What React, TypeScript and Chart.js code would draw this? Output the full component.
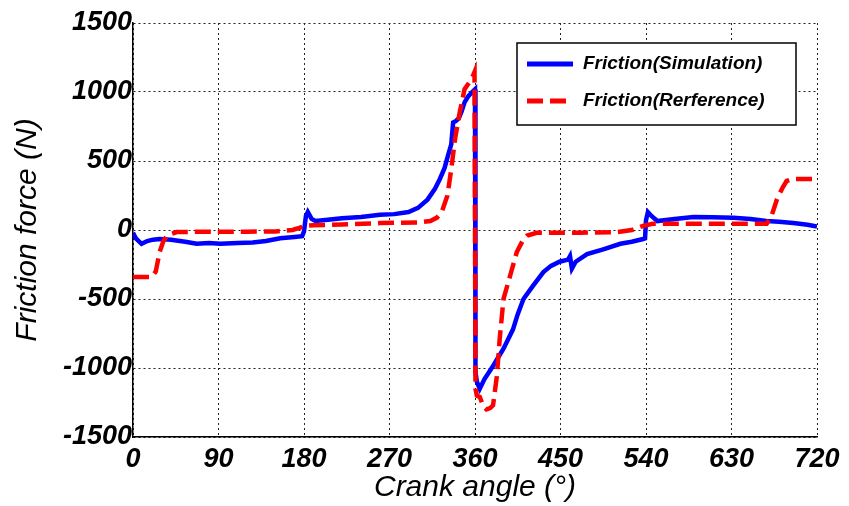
import React, { useEffect, useRef } from "react";
import { Chart, registerables } from "chart.js";

Chart.register(...registerables);

const simAngles = [0, 3, 9, 15, 21, 28, 40, 55, 67, 80, 92, 110, 126, 140, 155, 170, 178, 180, 182, 184, 188, 192, 205, 220, 240, 260, 275, 290, 300, 310, 318, 323, 328, 332, 335, 337, 340, 343, 346, 349, 353, 357, 360, 360.5, 362, 365, 370, 379, 390, 400, 405, 411, 421, 432, 440, 449, 458, 460, 462, 466, 478, 495, 513, 525, 537, 539, 540, 542, 546, 552, 570, 590, 610, 632, 650, 667, 680, 695, 710, 720];
const simForce = [-20, -60, -100, -80, -70, -65, -70, -85, -100, -95, -100, -95, -90, -80, -60, -50, -45, -10, 100, 130, 80, 65, 75, 85, 95, 110, 115, 130, 160, 220, 300, 370, 450, 550, 620, 780, 790, 810, 860, 925, 970, 1000, 1020, -1030, -1100, -1150, -1080, -985, -860, -720, -610, -500, -405, -305, -260, -230, -215, -190, -280, -230, -175, -140, -100, -85, -65, -60, 70, 130, 100, 65, 80, 94, 92, 88, 80, 65, 60, 50, 38, 25];

const refAngles = [0, 20, 24, 28, 32, 36, 46, 80, 120, 150, 168, 175, 181, 190, 220, 260, 300, 313, 320, 325, 331, 335, 339, 344, 349, 355, 358, 359.5, 360.5, 362, 365, 369, 372, 376, 379, 383, 386, 390, 397, 404, 410, 415, 425, 470, 510, 525, 537, 547, 600, 667, 672, 678, 684, 688, 695, 720];
const refForce = [-340, -340, -300, -160, -80, -40, -15, -12, -12, -10, 0, 15, 30, 35, 40, 50, 55, 65, 90, 130, 250, 440, 660, 855, 1020, 1080, 1120, 1145, -1150, -1200, -1210, -1280, -1300, -1290, -1270, -1060, -790, -500, -330, -160, -80, -40, -20, -20, -15, 0, 30, 45, 45, 45, 100, 225, 310, 355, 370, 370];

const xTicks = [0, 90, 180, 270, 360, 450, 540, 630, 720];
const yTicks = [-1500, -1000, -500, 0, 500, 1000, 1500];

const seriesLabels = ["Friction(Simulation)", "Friction(Rerference)"];
const xTitle = "Crank angle (°)";
const yTitle = "Friction force (N)";

const FONT = "'Liberation Sans', Arial, Helvetica, sans-serif";

const legendPlugin = {
  id: "boxLegend",
  afterDraw(chart: any) {
    const ctx = chart.ctx;
    const x0 = 517, y0 = 43, w = 279, h = 82;
    ctx.save();
    ctx.fillStyle = "#ffffff";
    ctx.fillRect(x0, y0, w, h);
    ctx.strokeStyle = "#000000";
    ctx.lineWidth = 1.5;
    ctx.strokeRect(x0, y0, w, h);
    const rows = [
      { y: 64, color: "#0000ff", dash: [] as number[] },
      { y: 101, color: "#ff0000", dash: [16, 7] },
    ];
    rows.forEach((r, i) => {
      ctx.beginPath();
      ctx.setLineDash(r.dash);
      ctx.strokeStyle = r.color;
      ctx.lineWidth = 5;
      ctx.moveTo(527, r.y);
      ctx.lineTo(573, r.y);
      ctx.stroke();
      ctx.setLineDash([]);
      ctx.fillStyle = "#000000";
      ctx.font = `italic bold 19px ${FONT}`;
      ctx.textBaseline = "middle";
      ctx.textAlign = "left";
      ctx.fillText(seriesLabels[i], 583, r.y);
    });
    ctx.restore();
  },
};

export default function App() {
  const canvasRef = useRef<HTMLCanvasElement | null>(null);

  useEffect(() => {
    const canvas = canvasRef.current;
    if (!canvas) return;
    const chart = new Chart(canvas, {
      type: "line",
      data: {
        datasets: [
          {
            label: seriesLabels[0],
            data: simAngles.map((a, i) => ({ x: a, y: simForce[i] })),
            borderColor: "#0000ff",
            backgroundColor: "#0000ff",
            borderWidth: 4.5,
            pointRadius: 0,
            tension: 0,
            order: 1,
          },
          {
            label: seriesLabels[1],
            data: refAngles.map((a, i) => ({ x: a, y: refForce[i] })),
            borderColor: "#ff0000",
            backgroundColor: "#ff0000",
            borderWidth: 4.5,
            borderDash: [16, 7],
            pointRadius: 0,
            tension: 0,
            order: 0,
          },
        ],
      },
      options: {
        animation: false,
        responsive: false,
        devicePixelRatio: 1,
        layout: { padding: { top: 23, right: 32, left: 0, bottom: 0 } },
        plugins: {
          legend: { display: false },
          tooltip: { enabled: false },
        },
        scales: {
          x: {
            type: "linear",
            min: 0,
            max: 720,
            afterBuildTicks: (s: any) => {
              s.ticks = xTicks.map((v) => ({ value: v }));
            },
            afterFit: (s: any) => {
              s.height = 69;
            },
            ticks: {
              padding: 6,
              color: "#000000",
              maxRotation: 0,
              autoSkip: false,
              callback: (v: any) => String(v),
              font: { family: FONT, size: 27, style: "italic", weight: "bold" },
            },
            grid: {
              drawTicks: false,
              color: "#222222",
              lineWidth: 1,
            },
            border: { display: true, color: "#000000", width: 1.5, dash: [2, 3] },
            title: {
              display: true,
              text: xTitle,
              color: "#000000",
              padding: { top: 0, bottom: 0 },
              font: { family: FONT, size: 30, style: "italic" },
            },
          },
          y: {
            type: "linear",
            min: -1500,
            max: 1500,
            afterBuildTicks: (s: any) => {
              s.ticks = yTicks.map((v) => ({ value: v }));
            },
            afterFit: (s: any) => {
              s.width = 133;
            },
            ticks: {
              padding: 1,
              color: "#000000",
              autoSkip: false,
              callback: (v: any) => String(v),
              font: { family: FONT, size: 27, style: "italic", weight: "bold" },
            },
            grid: {
              drawTicks: false,
              color: "#222222",
              lineWidth: 1,
            },
            border: { display: true, color: "#000000", width: 1.5, dash: [2, 3] },
            title: {
              display: true,
              text: yTitle,
              color: "#000000",
              padding: { top: 10, bottom: 0 },
              font: { family: FONT, size: 30, style: "italic" },
            },
          },
        },
      },
      plugins: [legendPlugin],
    });
    return () => chart.destroy();
  }, []);

  return (
    <div style={{ position: "fixed", left: 0, top: 0, width: 849, height: 506, background: "#ffffff" }}>
      <canvas ref={canvasRef} width={849} height={506} style={{ width: 849, height: 506, display: "block" }} />
    </div>
  );
}
